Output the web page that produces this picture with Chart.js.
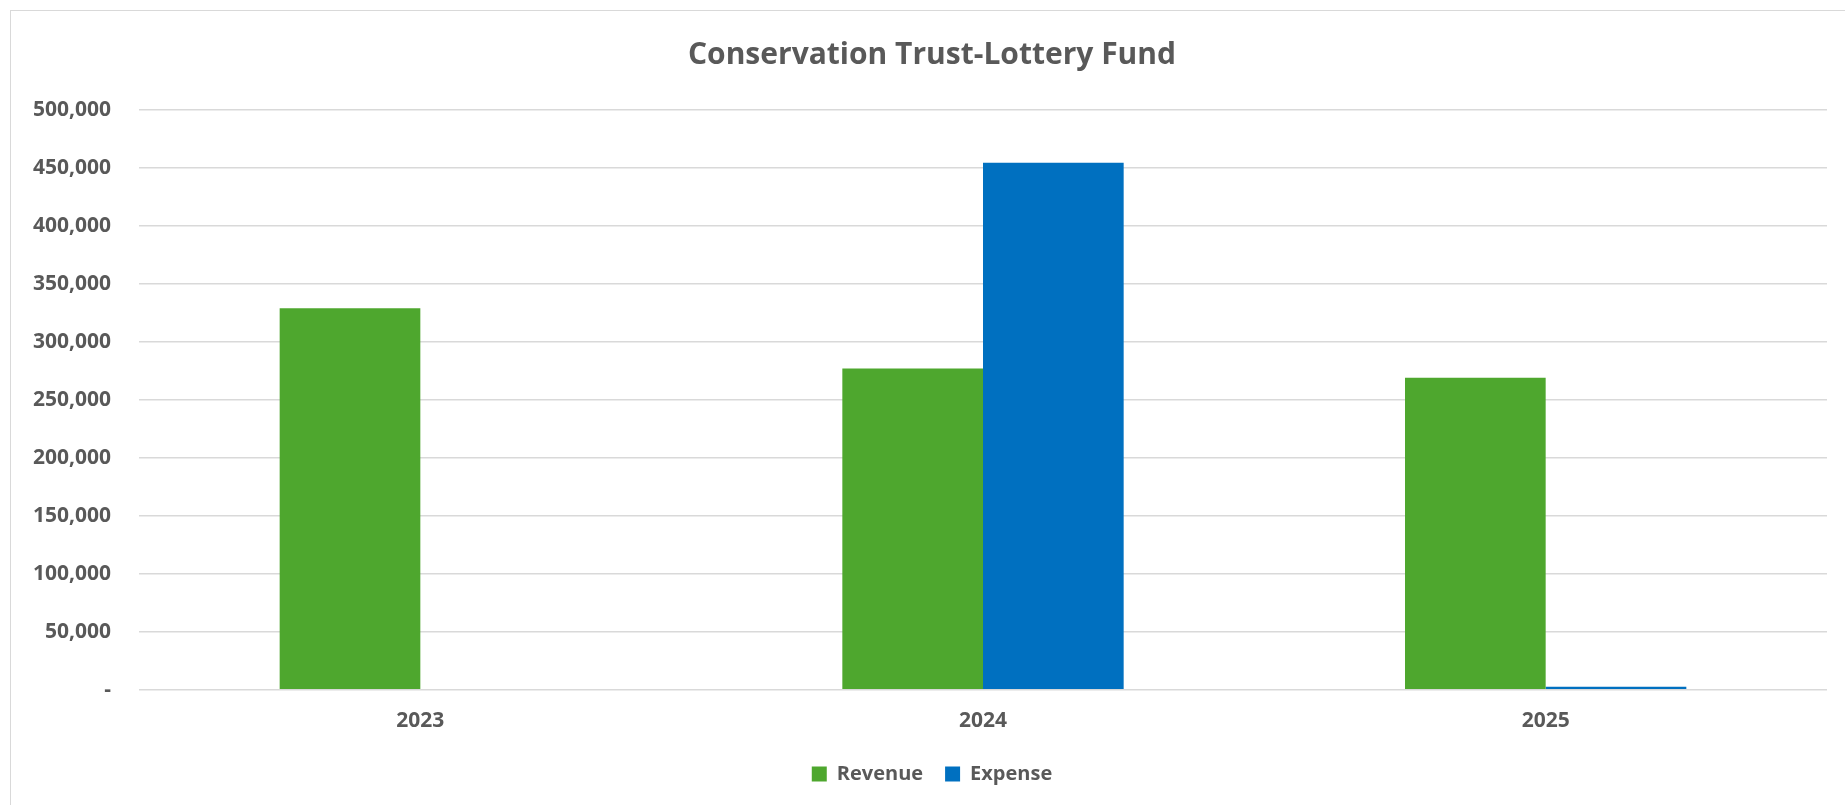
<!DOCTYPE html>
<html>
<head>
<meta charset="utf-8">
<title>Conservation Trust-Lottery Fund</title>
<script src="https://cdn.jsdelivr.net/npm/chart.js@4/dist/chart.umd.min.js"></script>
<style>
    html, body {
        margin: 0;
        padding: 0;
        width: 1845px;
        height: 805px;
        overflow: hidden;
        background: #ffffff;
    }
    #chartBox {
        position: absolute;
        left: 10px;
        top: 10px;
        width: 1842px;
        height: 794px;
        border-left: 1px solid #d9d9d9;
        border-top: 1px solid #d9d9d9;
    }
</style>
</head>
<body>
<div id="chartBox">
    <canvas id="fundChart" width="1842" height="794"></canvas>
</div>
<script>
const years = ['2023', '2024', '2025'];
const revenue = [329000, 277000, 269000];
const expense = [0, 454500, 2500];

const textGray = '#595959';
const baseFont = "'Open Sans', 'DejaVu Sans', sans-serif";

const ctx = document.getElementById('fundChart').getContext('2d');
const fundChart = new Chart(ctx, {
    type: 'bar',
    data: {
        labels: years,
        datasets: [{
            label: 'Revenue',
            data: revenue,
            backgroundColor: '#4ea72e',
            borderWidth: 0
        }, {
            label: 'Expense',
            data: expense,
            backgroundColor: '#0070c0',
            borderWidth: 0
        }]
    },
    options: {
        responsive: false,
        animation: false,
        layout: {
            padding: { left: 0, right: 0, top: 0, bottom: 11 }
        },
        datasets: {
            bar: {
                categoryPercentage: 0.5,
                barPercentage: 1.0
            }
        },
        plugins: {
            title: {
                display: true,
                text: 'Conservation Trust-Lottery Fund',
                color: textGray,
                font: { family: baseFont, size: 30, weight: 'bold', lineHeight: 1.2 },
                padding: { top: 26, bottom: 37 }
            },
            legend: {
                position: 'bottom',
                labels: {
                    color: textGray,
                    boxWidth: 15,
                    boxHeight: 15,
                    padding: 22,
                    font: { family: baseFont, size: 20, weight: 'bold' }
                }
            },
            tooltip: { enabled: false }
        },
        scales: {
            x: {
                grid: { display: false, drawTicks: false },
                border: { display: false },
                ticks: {
                    color: textGray,
                    padding: 19,
                    font: { family: baseFont, size: 21, weight: 'bold' }
                },
                afterFit: (scale) => { scale.height = 52.3; }
            },
            y: {
                min: 0,
                max: 500000,
                grid: {
                    color: '#d9d9d9',
                    lineWidth: 1.5,
                    drawTicks: false
                },
                border: { display: false },
                ticks: {
                    stepSize: 50000,
                    color: textGray,
                    padding: 28,
                    font: { family: baseFont, size: 21, weight: 'bold' },
                    callback: (value) => value === 0 ? '-' : value.toLocaleString('en-US')
                },
                afterFit: (scale) => { scale.width = 128; }
            },
            // empty right-hand axis, only keeps a margin so title and legend stay centred on the whole box
            yRight: {
                type: 'linear',
                position: 'right',
                grid: { display: false, drawTicks: false },
                border: { display: false },
                ticks: { display: false },
                afterFit: (scale) => { scale.width = 26; }
            }
        }
    }
});
</script>
</body>
</html>
